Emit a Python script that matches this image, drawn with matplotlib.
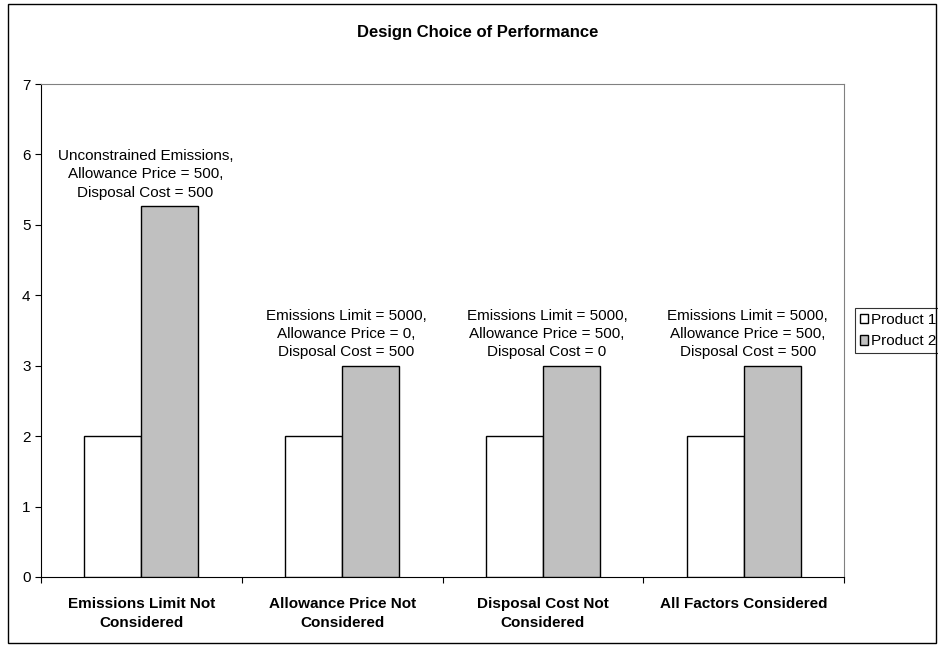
import matplotlib.pyplot as plt
import numpy as np
from matplotlib.patches import Rectangle

plt.rcParams['font.family'] = ['Liberation Sans', 'DejaVu Sans']

# Data
scenarios = [
    "Emissions Limit Not\nConsidered",
    "Allowance Price Not\nConsidered",
    "Disposal Cost Not\nConsidered",
    "All Factors Considered",
]
product1 = [2, 2, 2, 2]
product2 = [5.27, 3, 3, 3]
notes = [
    "Unconstrained Emissions,\nAllowance Price = 500,\nDisposal Cost = 500",
    "Emissions Limit = 5000,\nAllowance Price = 0,\nDisposal Cost = 500",
    "Emissions Limit = 5000,\nAllowance Price = 500,\nDisposal Cost = 0",
    "Emissions Limit = 5000,\nAllowance Price = 500,\nDisposal Cost = 500",
]

fig = plt.figure(figsize=(9.38, 6.45), dpi=100)
ax = fig.add_axes([41 / 938, 1 - 577 / 645, (844 - 41) / 938, (577 - 84) / 645])

# outer chart border
fig.patches.append(Rectangle((8 / 938, 2 / 645), 928 / 938, 639 / 645,
                             transform=fig.transFigure, fill=False,
                             edgecolor='black', linewidth=1.0))

x = np.arange(len(scenarios))
w = 0.284
ax.bar(x - w / 2, product1, w, color='white', edgecolor='black', linewidth=1.0,
       label='Product 1', zorder=3)
ax.bar(x + w / 2, product2, w, color='#C0C0C0', edgecolor='black', linewidth=1.0,
       label='Product 2', zorder=3)

for xi, val, note in zip(x, product2, notes):
    ax.text(xi + 0.02, val + 0.09, note, ha='center', va='bottom', fontsize=11,
            linespacing=1.38)

ax.set_xlim(-0.5, len(scenarios) - 0.5)
ax.set_ylim(0, 7)
ax.set_yticks(range(0, 8))
ax.tick_params(axis='y', direction='out', length=4, labelsize=11)
ax.set_xticks(np.arange(-0.5, len(scenarios), 1.0))
ax.set_xticklabels([])
ax.set_xticks(x, minor=True)
ax.set_xticklabels(scenarios, minor=True, fontsize=11, fontweight='bold',
                   linespacing=1.45)
ax.tick_params(axis='x', which='major', direction='out', length=4)
ax.tick_params(axis='x', which='minor', length=0, pad=14.5)

for side in ['top', 'right']:
    ax.spines[side].set_color('#808080')
for side in ['left', 'bottom']:
    ax.spines[side].set_color('black')

fig.text(478 / 938, 1 - 33 / 645, "Design Choice of Performance", fontsize=12,
         fontweight='bold', ha='center', va='center')

leg = ax.legend(loc='center left', bbox_to_anchor=(1.014, 0.50), fontsize=11,
                frameon=True, fancybox=False, edgecolor='black',
                handlelength=0.55, handleheight=0.55, handletextpad=0.15,
                borderpad=0.3, labelspacing=0.5, borderaxespad=0)
leg.get_frame().set_linewidth(0.8)

fig.savefig('out.png', dpi=100)
